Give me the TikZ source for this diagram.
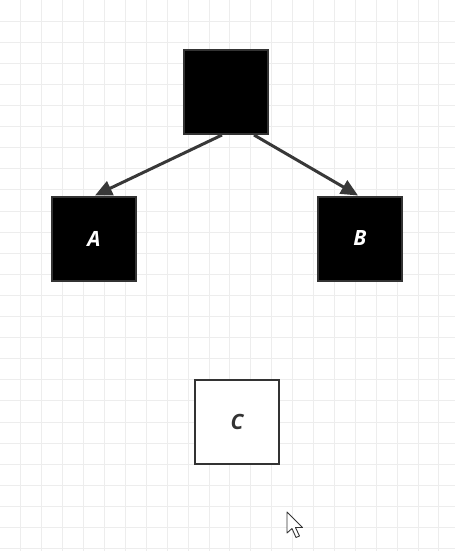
\documentclass[tikz,border=0pt]{standalone}
\usepackage{fontspec}
\setmainfont{Open Sans}
\usetikzlibrary{arrows.meta}
\definecolor{gridminor}{HTML}{EDEDED}
\definecolor{edge}{HTML}{333333}
\definecolor{arrowc}{HTML}{383838}
\tikzset{
  box/.style={draw=edge, line width=2pt, minimum width=84pt, minimum height=84pt, inner sep=0pt, font=\fontsize{21}{25}\selectfont\bfseries\itshape},
  darkbox/.style={box, fill=black, text=white},
  lightbox/.style={box, fill=white, text=edge},
  link/.style={draw=arrowc, line width=3pt, -{Triangle[length=17pt,width=15pt]}},
}
\begin{document}
\begin{tikzpicture}[x=1pt,y=-1pt]
\fill[white] (0,0) rectangle (455,551);
\useasboundingbox (0,0) rectangle (455,551);
% grid
\foreach \i in {1,...,21} {
  \draw[gridminor, line width=1pt] ({\i*20.9},0) -- ({\i*20.9},551);
}
\foreach \j in {1,...,26} {
  \draw[gridminor, line width=1pt] (0,{\j*21.1}) -- (455,{\j*21.1});
}
% nodes
\node[darkbox] (top) at (226,92) {};
\node[darkbox] (a) at (94,238.5) {A};
\node[darkbox] (b) at (360,238.5) {B};
\node[lightbox] (c) at (237,421.5) {C};
% connectors
\draw[link] ([xshift=-4pt]top.south) -- ([xshift=1pt]a.north);
\draw[link] ([xshift=28pt]top.south) -- ([xshift=-2pt]b.north);
% mouse pointer
\filldraw[fill=white, draw=edge, line width=0.9pt, line join=round]
  (287,512) -- (287,533) -- (292,528.5) -- (296,537.5) -- (299.5,536) -- (295.5,527.5) -- (302.5,527.5) -- cycle;
\end{tikzpicture}
\end{document}
